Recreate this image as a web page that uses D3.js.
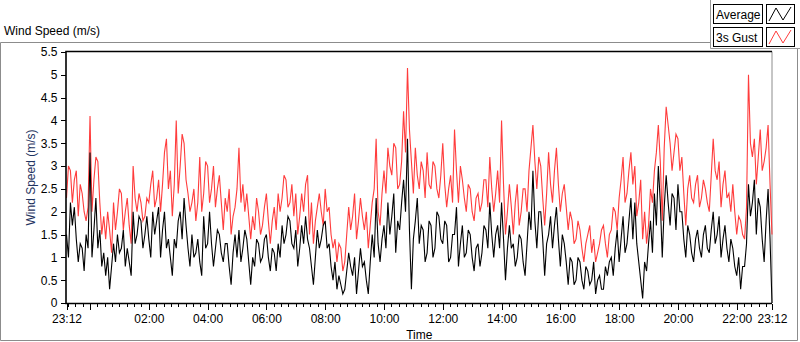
<!DOCTYPE html>
<html>
<head>
<meta charset="utf-8">
<script src="https://cdn.jsdelivr.net/npm/d3@7"></script>
<style>
  body { margin: 0; background: #fff; }
  svg text { font-family: "Liberation Sans", Arial, sans-serif; font-size: 12px; fill: #000; }
  .axis path { display: none; }
  .axis line { stroke: #000; shape-rendering: crispEdges; }
</style>
</head>
<body>
<div id="chart"></div>
<script>
// one reading every 4 minutes, starting 23:12
const startTime = '23:12';
const stepMinutes = 4;

const gustSpeed = [
  2.3, 3.0, 2.9, 2.2, 2.7, 2.9, 1.9, 2.6, 2.4, 2.0, 1.8, 2.1, 4.1, 2.0, 2.7, 3.2, 3.1, 2.2, 1.5, 1.9,
  1.4, 2.0, 1.6, 1.1, 2.2, 1.6, 2.0, 2.5, 2.4, 1.6, 2.0, 2.3, 1.7, 1.3, 3.0, 2.3, 2.0, 2.4, 2.2, 1.8,
  1.9, 2.3, 2.2, 2.6, 2.9, 2.1, 2.3, 2.7, 2.0, 2.6, 3.3, 3.6, 2.5, 2.9, 1.9, 2.6, 4.0, 2.4, 3.0, 3.7,
  3.5, 2.7, 2.4, 2.0, 2.2, 2.5, 1.8, 2.2, 3.2, 2.0, 2.4, 3.1, 3.0, 2.2,
  2.5, 3.0, 2.1, 2.5, 2.8, 2.2, 1.6, 2.3, 2.0, 2.5, 1.5, 1.9, 2.1, 2.5, 3.4, 2.2, 2.6, 2.0, 2.4, 1.9,
  1.4, 1.9, 1.6, 2.3, 2.0, 1.5, 1.7, 2.1, 2.4, 1.8, 1.3, 1.8, 2.1, 1.6, 2.4, 2.0, 2.3, 2.8, 2.7, 2.1,
  2.2, 2.6, 1.9, 2.4, 1.5, 1.9, 2.4, 2.0, 2.6, 2.8, 1.5, 2.2, 1.3, 1.8, 2.1, 2.4, 2.0, 1.7, 2.5, 2.0,
  2.1, 1.5, 1.2, 1.4, 0.9, 1.3, 1.2, 0.7, 0.9, 1.5, 2.1, 1.6,
  1.9, 2.4, 1.4, 1.8, 2.3, 1.9, 1.6, 2.0, 1.2, 1.7, 2.2, 2.5, 3.6, 2.0, 1.7, 2.4, 2.9, 2.4, 3.4, 3.0,
  2.8, 3.5, 3.4, 2.5, 2.6, 3.1, 4.2, 3.3, 5.15, 3.8, 3.1, 2.4, 3.4, 2.8, 2.5, 3.1, 2.9, 2.3, 3.3, 2.6,
  2.5, 3.1, 3.0, 2.5, 2.3, 2.8, 3.5, 2.6, 2.1, 2.5, 2.8, 2.2, 3.8, 2.9, 2.2, 3.0, 2.7, 2.3, 2.0, 2.6,
  2.5, 2.0, 1.8, 2.3, 2.4, 2.0, 2.2, 2.7, 2.7, 2.1, 3.2, 2.5,
  2.0, 2.4, 2.9, 2.2, 4.0, 2.6, 1.5, 2.0, 2.6, 2.1, 1.5, 2.2, 2.6, 1.7, 2.0, 2.5, 2.5, 2.0, 2.9, 3.4,
  3.9, 3.1, 2.5, 3.2, 3.0, 2.3, 1.7, 2.4, 3.3, 2.6, 2.2, 2.9, 3.4, 2.6, 2.0, 2.4, 2.6, 2.1, 1.6, 2.0,
  1.8, 1.3, 1.4, 1.8, 1.6, 1.2, 0.9, 1.3, 1.5, 1.7, 1.1, 1.4, 0.9, 1.1, 1.3, 1.6, 1.7, 1.3, 1.0, 1.5,
  1.6, 2.1, 2.0, 1.6, 2.3, 2.7, 3.2, 2.2, 2.4, 2.9, 3.3, 2.6,
  3.0, 1.9, 2.2, 2.7, 1.4, 2.0, 1.3, 1.7, 2.5, 2.2, 2.9, 3.3, 3.9, 3.1, 1.8, 3.4, 4.3, 3.9, 3.5, 2.9,
  3.3, 3.7, 3.6, 2.9, 3.2, 2.4, 1.7, 2.5, 2.8, 2.3, 2.2, 2.6, 2.8, 2.1, 2.3, 2.7, 2.5, 2.2, 2.0, 2.8,
  3.6, 2.9, 2.7, 3.1, 2.1, 2.6, 2.9, 2.3, 2.4, 2.0, 2.6, 2.0, 1.5, 1.9, 1.8, 1.5, 1.4, 2.1, 5.0, 3.5,
  3.2, 3.6, 2.6, 3.2, 3.8, 2.9, 3.1, 3.4, 3.9, 2.6, 1.5
];

const averageSpeed = [
  1.5, 1.0, 2.2, 1.7, 2.1, 1.4, 0.9, 1.3, 1.2, 0.7, 1.5, 1.2, 3.3, 1.0, 1.6, 2.3, 1.2, 1.6, 0.8, 1.1,
  0.6, 1.0, 0.3, 0.8, 1.3, 0.9, 1.5, 1.1, 1.2, 1.6, 0.8, 1.2, 0.9, 0.6, 2.0, 1.3, 1.5, 1.9, 1.8, 1.2,
  1.5, 1.9, 1.4, 1.0, 2.0, 1.5, 1.8, 2.1, 1.0, 1.6, 2.0, 1.2, 1.4, 1.0, 0.6, 1.4, 1.2, 1.8, 2.0, 1.4,
  2.3, 1.7, 1.2, 0.8, 1.5, 1.0, 1.1, 1.4, 0.9, 0.6, 1.9, 1.2, 1.3, 2.0,
  1.3, 0.8, 1.2, 1.6, 1.5, 1.1, 0.9, 1.3, 1.3, 0.8, 0.4, 1.1, 1.5, 1.0, 1.6, 0.9, 1.2, 1.6, 1.4, 0.9,
  0.4, 1.0, 0.8, 1.4, 1.3, 0.9, 1.0, 1.4, 1.5, 1.0, 0.7, 1.2, 1.1, 0.7, 1.3, 1.0, 1.7, 1.3, 1.5, 1.9,
  1.8, 1.3, 1.2, 1.6, 0.8, 1.2, 1.7, 1.3, 1.9, 1.4, 1.2, 0.8, 0.4, 1.0, 1.6, 1.2, 1.4, 1.7, 1.8, 1.2,
  1.3, 0.8, 0.5, 0.9, 0.3, 0.6, 0.4, 0.2, 0.3, 0.7, 1.1, 0.8,
  0.6, 1.0, 0.2, 0.7, 1.2, 0.8, 0.9, 0.5, 0.2, 0.9, 1.5, 1.0, 2.3, 1.3, 0.9, 1.4, 1.7, 1.2, 2.2, 1.5,
  1.9, 2.4, 1.1, 1.8, 1.6, 2.2, 2.7, 2.0, 3.6, 1.6, 0.3, 1.4, 1.8, 2.3, 1.3, 1.7, 1.6, 0.9, 1.1, 1.8,
  1.7, 1.0, 1.2, 2.0, 1.9, 1.4, 1.3, 1.8, 1.7, 0.9, 1.0, 1.5, 1.5, 2.1, 0.8, 1.3, 1.7, 1.0, 1.1, 1.6,
  1.5, 1.0, 0.7, 1.2, 1.3, 0.8, 1.1, 1.7, 1.6, 1.2, 2.2, 1.5,
  1.0, 1.5, 1.7, 1.2, 2.2, 1.4, 0.5, 1.2, 1.7, 1.2, 1.3, 0.8, 1.0, 1.5, 1.4, 0.9, 0.6, 1.3, 2.0, 1.6,
  2.9, 1.8, 1.2, 2.0, 2.0, 1.4, 0.6, 1.3, 1.5, 1.9, 1.2, 1.7, 2.1, 1.4, 0.8, 1.5, 1.3, 0.9, 0.4, 1.0,
  0.9, 0.4, 0.5, 1.0, 0.9, 0.5, 0.3, 0.8, 0.7, 0.4, 0.5, 0.9, 0.2, 0.5, 0.6, 0.3, 0.3, 0.8, 0.6, 0.9,
  1.0, 0.6, 1.2, 1.6, 0.9, 1.4, 1.9, 1.1, 1.3, 1.8, 2.3, 1.4,
  2.2, 1.3, 0.9, 0.5, 0.1, 0.9, 0.7, 1.3, 1.8, 1.1, 2.4, 1.7, 3.0, 2.2, 1.0, 2.1, 2.8, 2.2, 1.7, 2.4,
  2.3, 1.6, 2.6, 2.0, 2.0, 1.4, 1.0, 1.7, 1.5, 1.1, 0.9, 1.4, 1.6, 1.2, 1.0, 1.5, 1.7, 1.2, 1.1, 1.6,
  2.0, 1.3, 1.5, 1.9, 1.0, 1.4, 1.7, 1.2, 0.9, 1.4, 1.2, 0.8, 0.6, 1.0, 0.3, 0.8, 0.8, 1.3, 2.6, 1.9,
  2.2, 2.7, 1.5, 2.3, 2.1, 1.4, 0.9, 1.8, 2.5, 1.4, 0.0
];

const yTicks = [0, 0.5, 1, 1.5, 2, 2.5, 3, 3.5, 4, 4.5, 5, 5.5];
const timeLabels = ['23:12', '02:00', '04:00', '06:00', '08:00', '10:00', '12:00',
  '14:00', '16:00', '18:00', '20:00', '22:00', '23:12'];

const seriesNames = ['Average', '3s Gust'];
const seriesColors = ['#000000', '#ff3c3c'];

// ---- layout ----
const W = 800, H = 342;
const plot = { left: 66.5, right: 772, top: 52, bottom: 303 };

const svg = d3.select('#chart').append('svg')
  .attr('width', W)
  .attr('height', H);

// time helpers
const parseHM = d3.timeParse('%H:%M');
const t0 = parseHM(startTime);
const t1 = d3.timeHour.offset(t0, 24);
const timeAt = (i) => d3.timeMinute.offset(t0, i * stepMinutes);
const labelDate = (s, i) => {
  const d = parseHM(s);
  if (i === timeLabels.length - 1) return t1;
  return d < t0 ? d3.timeDay.offset(d, 1) : d;
};

const x_scale = d3.scaleTime().domain([t0, t1]).range([plot.left, plot.right]);
const y_scale = d3.scaleLinear().domain([0, 5.5]).range([plot.bottom, plot.top]);

// outer frame
const frame = svg.append('g').attr('class', 'frame');
frame.append('path')
  .attr('d', 'M0.5,42.5 H710.5 M797.5,48 V340.5 H0.5 V42.5')
  .attr('fill', 'none').attr('stroke', '#8c8c8c');

frame.append('text')
  .attr('x', 4).attr('y', 35)
  .text('Wind Speed (m/s)');

// legend panel
const legend = svg.append('g').attr('class', 'legend');
legend.append('path')
  .attr('d', 'M710.5,0 V48.5 H800')
  .attr('fill', 'none').attr('stroke', '#9a9a9a');

seriesNames.forEach((name, k) => {
  const top = 4 + k * 23;
  legend.append('rect')
    .attr('x', 713.5).attr('y', top + 0.5)
    .attr('width', 49).attr('height', 19)
    .attr('fill', '#fff').attr('stroke', '#000');
  legend.append('text')
    .attr('x', 716).attr('y', top + 15)
    .text(name);
  legend.append('rect')
    .attr('x', 766.5).attr('y', top + 0.5)
    .attr('width', 28).attr('height', 19)
    .attr('fill', '#fff').attr('stroke', '#000');
  legend.append('path')
    .attr('d', `M769,${top + 17} L776,${top + 4} L783,${top + 16} L791,${top + 3}`)
    .attr('fill', 'none')
    .attr('stroke', seriesColors[k])
    .attr('stroke-width', 1);
});

// plot right edge is grey
svg.append('path')
  .attr('d', `M${plot.right},${plot.top - 0.5} V${plot.bottom}`)
  .attr('stroke', '#8c8c8c').attr('fill', 'none');

// series
const line = (vals) => d3.line()
  .x((d, i) => x_scale(timeAt(i)))
  .y((d) => y_scale(d))(vals);

const lines = svg.append('g').attr('class', 'lines');
lines.append('path')
  .attr('d', line(gustSpeed))
  .attr('fill', 'none')
  .attr('stroke', seriesColors[1])
  .attr('stroke-width', 1.1);
lines.append('path')
  .attr('d', line(averageSpeed))
  .attr('fill', 'none')
  .attr('stroke', seriesColors[0])
  .attr('stroke-width', 1.1);

// plot top/left/bottom black edges
svg.append('path')
  .attr('d', `M${plot.right},${plot.top - 0.5} H${plot.left - 0.5} V${plot.bottom + 0.5} H${plot.right}`)
  .attr('fill', 'none').attr('stroke', '#000').attr('stroke-width', 1.6);

// y axis
const yAxis = svg.append('g')
  .attr('class', 'axis')
  .attr('transform', `translate(${plot.left - 1},0)`)
  .call(d3.axisLeft(y_scale).tickValues(yTicks).tickSize(5).tickPadding(3)
    .tickFormat((d) => String(d)));
yAxis.selectAll('text').style('font-size', '12px');

svg.append('text')
  .attr('transform', `translate(35,${(plot.top + plot.bottom) / 2}) rotate(-90)`)
  .attr('text-anchor', 'middle')
  .style('fill', '#1f3461')
  .text('Wind Speed (m/s)');

// x axis: minor ticks every 15 min, major every 2 h, labels
const xAxisY = plot.bottom + 1;
const minorTicks = d3.timeMinute.every(15).range(t0, t1);
const majorTicks = [t0, ...d3.timeHour.every(2).range(d3.timeMinute.offset(t0, 1), t1), t1];

svg.append('g')
  .attr('class', 'axis')
  .attr('transform', `translate(0,${xAxisY})`)
  .call(d3.axisBottom(x_scale).tickValues(minorTicks).tickSize(3).tickFormat(''));

svg.append('g')
  .attr('class', 'axis')
  .attr('transform', `translate(0,${xAxisY})`)
  .call(d3.axisBottom(x_scale).tickValues(majorTicks).tickSize(6).tickFormat(''));

const labelDates = timeLabels.map(labelDate);
svg.append('g')
  .attr('class', 'axis')
  .attr('transform', `translate(0,${xAxisY})`)
  .call(d3.axisBottom(x_scale).tickValues(labelDates).tickSize(0).tickPadding(10)
    .tickFormat((d, i) => timeLabels[i]))
  .selectAll('text').style('font-size', '12px');

svg.append('text')
  .attr('x', (plot.left + plot.right) / 2)
  .attr('y', 339)
  .attr('text-anchor', 'middle')
  .text('Time');
</script>
</body>
</html>
